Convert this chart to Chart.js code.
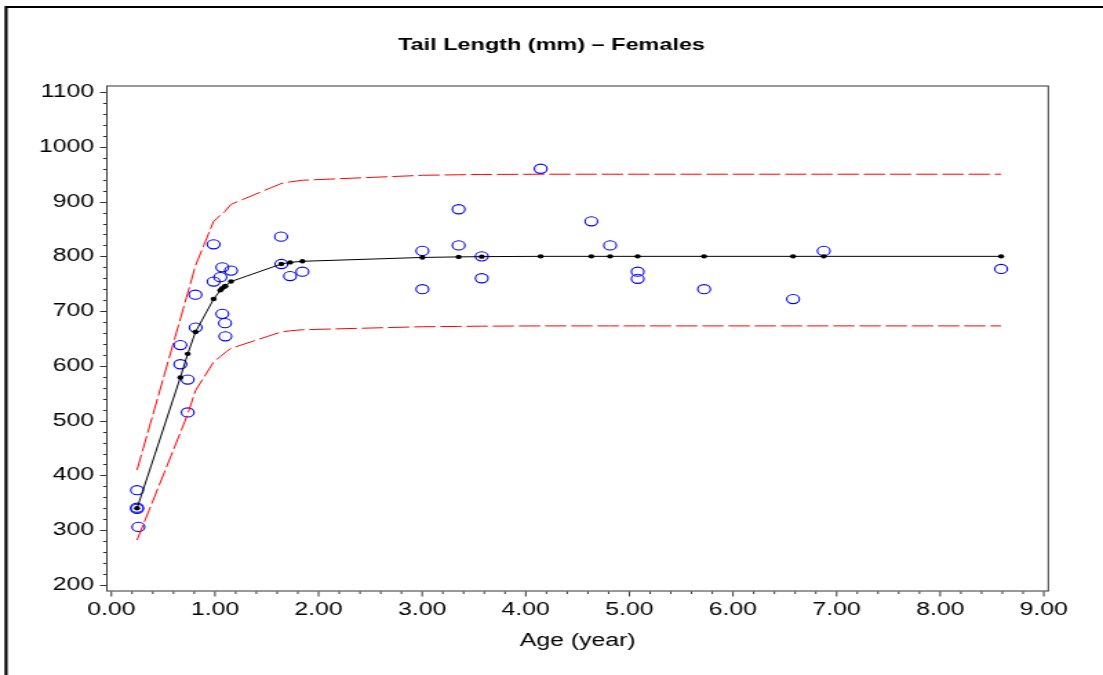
<!DOCTYPE html>
<html>
<head>
<meta charset="utf-8">
<script src="https://cdn.jsdelivr.net/npm/chart.js@4.4.1/dist/chart.umd.min.js"></script>
<style>
  html, body { margin: 0; padding: 0; background: #ffffff; overflow: hidden; }
  #c { display: block; width: 1103px !important; height: 675px !important; }
</style>
</head>
<body>
<canvas id="c" width="800" height="675" style="width:1103px;height:675px;"></canvas>
<script>
// ---- Data ----
const obsAge = [0.248, 0.248, 0.248, 0.261, 0.666, 0.666, 0.737, 0.737, 0.811, 0.814,
                0.987, 0.987, 1.052, 1.071, 1.155, 1.071, 1.097, 1.100, 1.638, 1.641,
                1.725, 1.844, 3.002, 3.002, 3.352, 3.352, 3.575, 3.575, 4.144, 4.633,
                4.814, 5.080, 5.080, 5.721, 6.580, 6.876, 8.588];
const obsLen = [373, 341, 339, 306, 638, 603, 575, 515, 730, 670,
                822, 754, 762, 780, 774, 695, 678, 654, 836, 786,
                764, 772, 810, 740, 886, 820, 800, 760, 960, 864,
                820, 772, 759, 740, 722, 810, 777];

const fitAge   = [0.248, 0.666, 0.737, 0.812, 0.987, 1.052, 1.071, 1.097, 1.100, 1.155,
                  1.640, 1.725, 1.844, 3.002, 3.352, 3.575, 4.144, 4.633, 4.814, 5.080,
                  5.721, 6.580, 6.876, 8.588];
const fitLen   = [340, 579, 622, 662, 722, 738, 742, 745, 746, 754,
                  786, 789, 791, 798, 799, 799.5, 800, 800, 800, 800,
                  800, 800, 800, 800];
const upperLen = [410, 686, 733, 783, 864, 875, 878, 882, 883, 895,
                  933, 936, 939, 948, 949, 949.5, 950, 950, 950, 950,
                  950, 950, 950, 950];
const lowerLen = [282, 478, 512, 555, 607, 617, 620, 624, 625, 632,
                  662, 664, 666, 671.5, 672, 672.5, 673, 673, 673, 673,
                  673, 673, 673, 673];

const xTicks = [0, 1, 2, 3, 4, 5, 6, 7, 8, 9];
const yTicks = [200, 300, 400, 500, 600, 700, 800, 900, 1000, 1100];
const titleText = 'Tail Length (mm) \u2013 Females';
const xTitle = 'Age (year)';

// ---- Build library structures ----
const toXY = (xs, ys) => xs.map((v, i) => ({ x: v, y: ys[i] }));
const FONT = "'Liberation Sans', Arial, Helvetica, sans-serif";

const framePlugin = {
  id: 'frame',
  afterDraw(chart) {
    const { ctx, chartArea: a, scales } = chart;
    const xs = scales.x, ys = scales.y;
    ctx.save();
    ctx.strokeStyle = '#333333';
    ctx.lineWidth = 1;
    ctx.strokeRect(a.left + 0.5, a.top + 0.5, a.right - a.left - 1, a.bottom - a.top - 1);
    ctx.beginPath();
    for (let i = 0; i <= 45; i++) {
      const v = i * 0.2;
      const p = xs.getPixelForValue(v);
      const len = (i % 5 === 0) ? 5 : 2.5;
      ctx.moveTo(p, a.bottom);
      ctx.lineTo(p, a.bottom + len);
    }
    for (let v = 200; v <= 1100; v += 20) {
      const p = Math.round(ys.getPixelForValue(v)) + 0.5;
      const len = (v % 100 === 0) ? 4.4 : 2.2;
      ctx.moveTo(a.left - len, p);
      ctx.lineTo(a.left, p);
    }
    ctx.stroke();
    ctx.strokeStyle = '#000000';
    ctx.lineWidth = 2.2;
    ctx.beginPath();
    ctx.moveTo(4.4, 7);
    ctx.lineTo(800, 7);
    ctx.moveTo(4.4, 6);
    ctx.lineTo(4.4, 675);
    ctx.stroke();
    ctx.restore();
  }
};

new Chart(document.getElementById('c'), {
  type: 'scatter',
  data: {
    datasets: [
      {
        label: 'Upper',
        data: toXY(fitAge, upperLen),
        showLine: true,
        borderColor: '#ff0000',
        borderWidth: 1,
        borderDash: [15.5, 3.5],
        pointRadius: 0,
        fill: false,
        tension: 0
      },
      {
        label: 'Lower',
        data: toXY(fitAge, lowerLen),
        showLine: true,
        borderColor: '#ff0000',
        borderWidth: 1,
        borderDash: [15.5, 3.5],
        pointRadius: 0,
        fill: false,
        tension: 0
      },
      {
        label: 'Fitted',
        data: toXY(fitAge, fitLen),
        showLine: true,
        borderColor: '#000000',
        borderWidth: 1,
        pointRadius: 2.2,
        pointBackgroundColor: '#000000',
        pointBorderColor: '#000000',
        pointBorderWidth: 0,
        tension: 0
      },
      {
        label: 'Observed',
        data: toXY(obsAge, obsLen),
        showLine: false,
        pointStyle: 'circle',
        pointRadius: 4.6,
        pointBorderColor: '#0000ff',
        pointBackgroundColor: 'rgba(0,0,0,0)',
        pointBorderWidth: 1.1
      }
    ]
  },
  options: {
    responsive: false,
    devicePixelRatio: 1,
    animation: false,
    layout: { padding: { left: 0, right: 0, top: 0, bottom: 0 } },
    plugins: {
      legend: { display: false },
      tooltip: { enabled: false },
      title: {
        display: true,
        text: titleText,
        color: '#000000',
        font: { family: FONT, size: 17, weight: 'bold', lineHeight: 1.2 },
        padding: { top: 34.8, bottom: 30.3 }
      }
    },
    scales: {
      x: {
        type: 'linear',
        min: -0.05,
        max: 9.05,
        grid: { display: false, drawTicks: false, tickLength: 0 },
        border: { display: false },
        afterBuildTicks: (s) => { s.ticks = xTicks.map(v => ({ value: v })); },
        afterFit: (s) => { s.height = 83.5; },
        ticks: {
          padding: 7.7,
          color: '#000000',
          font: { family: FONT, size: 18 },
          maxRotation: 0,
          autoSkip: false,
          callback: (v) => Number(v).toFixed(2)
        },
        title: {
          display: true,
          text: xTitle,
          color: '#000000',
          font: { family: FONT, size: 18 },
          padding: { top: 0, bottom: 23.2 }
        }
      },
      y: {
        type: 'linear',
        min: 188,
        max: 1112,
        grid: { display: false, drawTicks: false, tickLength: 0 },
        border: { display: false },
        afterBuildTicks: (s) => { s.ticks = yTicks.map(v => ({ value: v })); },
        afterFit: (s) => { s.width = 77; },
        ticks: {
          padding: 8.8,
          color: '#000000',
          font: { family: FONT, size: 18 },
          autoSkip: false,
          callback: (v) => String(v)
        }
      },
      yRight: {
        type: 'linear',
        position: 'right',
        min: 188,
        max: 1112,
        display: true,
        grid: { display: false, drawTicks: false, tickLength: 0 },
        border: { display: false },
        ticks: { display: false },
        afterFit: (s) => { s.width = 39.2; }
      }
    }
  },
  plugins: [framePlugin]
});
</script>
</body>
</html>
